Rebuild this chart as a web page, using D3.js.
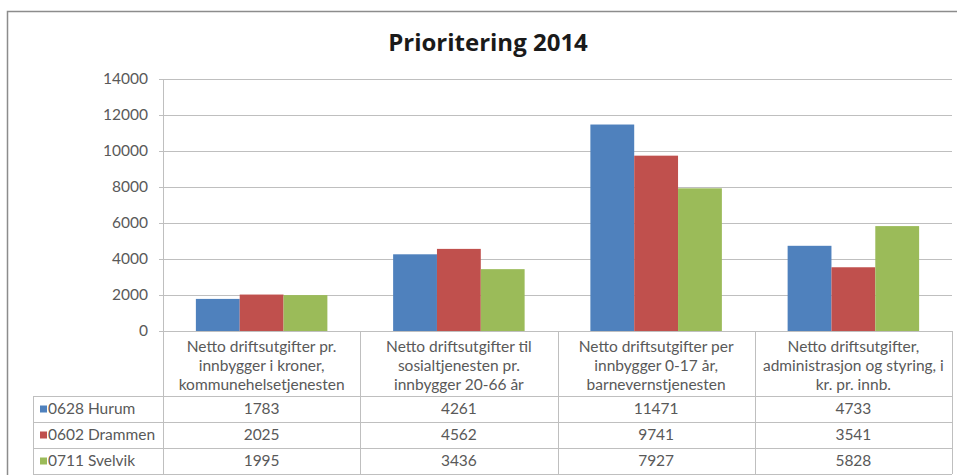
<!DOCTYPE html>
<html>
<head>
<meta charset="utf-8">
<script src="https://cdnjs.cloudflare.com/ajax/libs/d3/7.8.5/d3.min.js"></script>
<style>
  html, body { margin: 0; padding: 0; background: #fff; }
  svg { display: block; }
  text { font-family: Lato, "Open Sans", sans-serif; }
  text.title { font-family: "Open Sans", Lato, sans-serif; }
</style>
</head>
<body>
<svg id="chart" width="957" height="475"></svg>
<script>
const title = "Prioritering 2014";
const categories = [
  ["Netto driftsutgifter pr.", "innbygger i kroner,", "kommunehelsetjenesten"],
  ["Netto driftsutgifter til", "sosialtjenesten pr.", "innbygger 20-66 år"],
  ["Netto driftsutgifter per", "innbygger 0-17 år,", "barnevernstjenesten"],
  ["Netto driftsutgifter,", "administrasjon og styring, i", "kr. pr. innb."]
];
const seriesNames = ["0628 Hurum", "0602 Drammen", "0711 Svelvik"];
const hurum = [1783, 4261, 11471, 4733];
const drammen = [2025, 4562, 9741, 3541];
const svelvik = [1995, 3436, 7927, 5828];
const yTicks = [0, 2000, 4000, 6000, 8000, 10000, 12000, 14000];
const colors = ["#4F81BD", "#C0504D", "#9BBB59"];

const seriesValues = [hurum, drammen, svelvik];

const svg = d3.select("#chart");
const textColor = "#595959";
const lineColor = "#BFBFBF";
const fs = 15.5;

// outer chart border (cropped on right & bottom)
svg.append("rect").attr("x", 7.5).attr("y", 11.5).attr("width", 980).attr("height", 500)
  .attr("fill", "#fff").attr("stroke", "#8C8C8C").attr("stroke-width", 1.5);

// title
svg.append("text").attr("class", "title").attr("x", 488).attr("y", 51).attr("text-anchor", "middle")
  .attr("font-size", 24).attr("font-weight", "bold").attr("fill", "#1a1a1a").text(title);

const pLeft = 163, pRight = 952, pTop = 79, pBottom = 331;
const y = d3.scaleLinear().domain([0, 14000]).range([pBottom, pTop]);
const x0 = d3.scaleBand().domain(d3.range(categories.length)).range([pLeft, pRight]).paddingInner(0).paddingOuter(0);
const bw = x0.bandwidth() / 4.5;
const x1 = d3.scaleBand().domain(d3.range(seriesNames.length))
  .range([bw * 0.75, x0.bandwidth() - bw * 0.75]).padding(0);

// gridlines + y axis
const yAxis = d3.axisLeft(y).tickValues(yTicks).tickFormat(d3.format("d"))
  .tickSize(-(pRight - pLeft)).tickSizeOuter(0).tickPadding(15);
const gy = svg.append("g").attr("transform", `translate(${pLeft},0)`).call(yAxis);
gy.select(".domain").attr("stroke", lineColor);
gy.selectAll(".tick line").attr("stroke", lineColor).attr("x1", -4);
gy.selectAll(".tick text").attr("fill", textColor).attr("font-size", fs);

// bars
const groups = svg.append("g").selectAll("g").data(categories).join("g")
  .attr("transform", (d, i) => `translate(${x0(i)},0)`);
groups.selectAll("rect").data((d, i) => seriesValues.map((s, k) => ({k, v: s[i]})))
  .join("rect")
  .attr("x", d => x1(d.k)).attr("width", x1.bandwidth())
  .attr("y", d => y(d.v)).attr("height", d => y(0) - y(d.v))
  .attr("fill", d => colors[d.k]);

// data table
const tableLeft = 33;
const headerBottom = 396;
const rowH = 26;
const rowYs = seriesNames.map((s, i) => headerBottom + i * rowH);
const tableBottom = headerBottom + seriesNames.length * rowH;
const tg = svg.append("g");
tg.append("line").attr("x1", pLeft).attr("x2", pRight).attr("y1", pBottom + 0.5).attr("y2", pBottom + 0.5).attr("stroke", lineColor);
x0.domain().concat([categories.length]).forEach(i => {
  const xx = Math.round(i < categories.length ? x0(i) : pRight) + 0.5;
  tg.append("line").attr("x1", xx).attr("x2", xx).attr("y1", pBottom).attr("y2", tableBottom).attr("stroke", lineColor);
});
tg.append("line").attr("x1", tableLeft + 0.5).attr("x2", tableLeft + 0.5).attr("y1", headerBottom).attr("y2", tableBottom).attr("stroke", lineColor);
rowYs.concat([tableBottom]).forEach(yy => {
  tg.append("line").attr("x1", tableLeft).attr("x2", pRight).attr("y1", Math.round(yy) + 0.5).attr("y2", Math.round(yy) + 0.5).attr("stroke", lineColor);
});
categories.forEach((lines, i) => {
  const cx = x0(i) + x0.bandwidth() / 2;
  lines.forEach((ln, j) => {
    tg.append("text").attr("x", cx).attr("y", 347 + j * 19).attr("dy", "0.35em")
      .attr("text-anchor", "middle").attr("font-size", fs).attr("fill", textColor).text(ln);
  });
});
seriesNames.forEach((name, k) => {
  const cy = rowYs[k] + rowH / 2;
  tg.append("rect").attr("x", 40).attr("y", cy - 3.5).attr("width", 7).attr("height", 7).attr("fill", colors[k]);
  tg.append("text").attr("x", 48).attr("y", cy).attr("dy", "0.35em")
    .attr("font-size", fs).attr("fill", textColor).text(name);
  seriesValues[k].forEach((v, i) => {
    tg.append("text").attr("x", x0(i) + x0.bandwidth() / 2).attr("y", cy).attr("dy", "0.35em")
      .attr("text-anchor", "middle").attr("font-size", fs).attr("fill", textColor).text(v);
  });
});
</script>
</body>
</html>
